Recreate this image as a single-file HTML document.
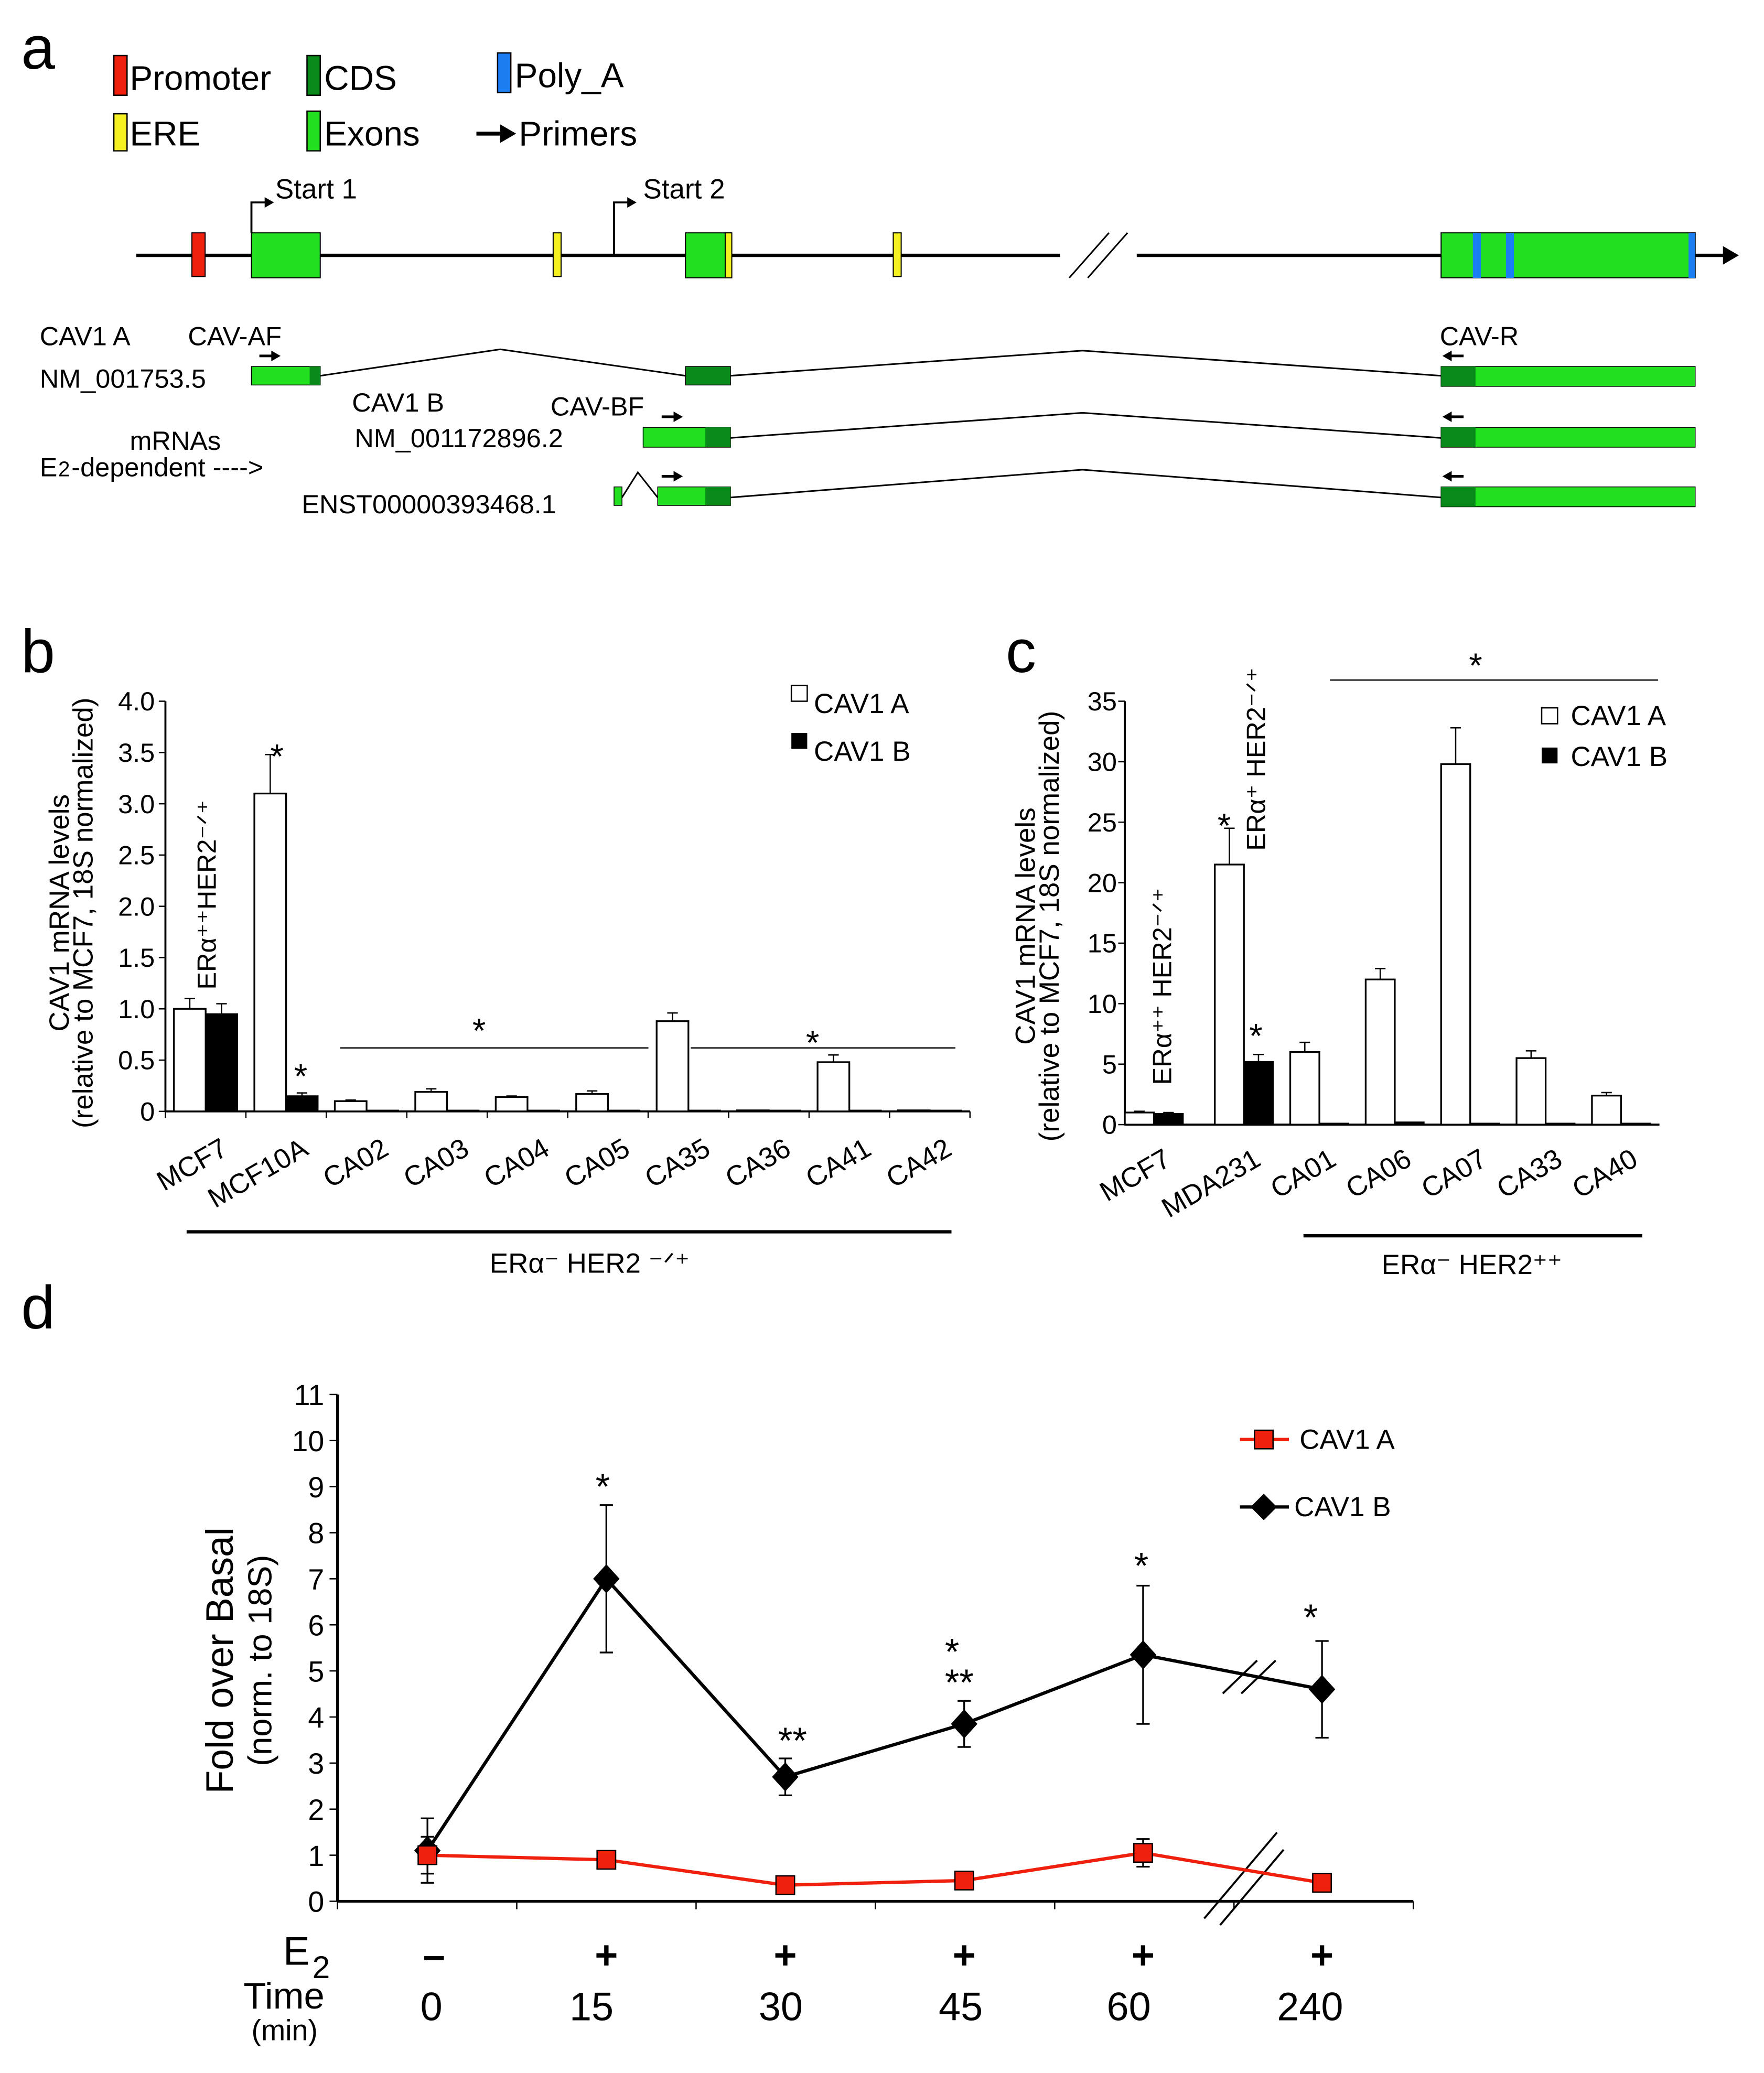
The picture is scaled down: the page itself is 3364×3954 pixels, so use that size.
<!DOCTYPE html>
<html><head><meta charset="utf-8"><style>
html,body{margin:0;padding:0;background:#fff}
svg{display:block}
text{font-family:"Liberation Sans",sans-serif;fill:#000}
</style></head><body>
<svg id="fig" width="3364" height="3954" viewBox="0 0 1333 1566.8" xmlns="http://www.w3.org/2000/svg">
<g>
<text x="16" y="52" font-size="46">a</text>
<g font-size="26">
<rect x="86" y="42" width="10" height="30" fill="#f0200f" stroke="#000" stroke-width="1"/><text x="98" y="68">Promoter</text>
<rect x="232" y="42" width="10" height="30" fill="#0a8a1a" stroke="#000" stroke-width="1"/><text x="245" y="68">CDS</text>
<rect x="376" y="40" width="10" height="30" fill="#1a7ef0" stroke="#000" stroke-width="1"/><text x="389" y="66">Poly_A</text>
<rect x="86" y="86" width="10" height="28" fill="#f5f020" stroke="#000" stroke-width="1"/><text x="98" y="110">ERE</text>
<rect x="232" y="84" width="10" height="30" fill="#22e020" stroke="#000" stroke-width="1"/><text x="245" y="110">Exons</text>
<line x1="360" y1="101" x2="380" y2="101" stroke="#000" stroke-width="3"/><polygon points="378,94 390,101 378,108" fill="#000"/><text x="392" y="110">Primers</text>
</g>
<g>
<line x1="103" y1="193" x2="1303" y2="193" stroke="#000" stroke-width="2.5"/>
<polygon points="1302,186 1314,193 1302,200" fill="#000"/>
<rect x="801" y="183" width="58" height="20" fill="#fff"/>
<line x1="808" y1="210" x2="838" y2="176" stroke="#000" stroke-width="1.2"/><line x1="822" y1="210" x2="852" y2="176" stroke="#000" stroke-width="1.2"/>
<rect x="145" y="176" width="10" height="33" fill="#f0200f" stroke="#000" stroke-width="0.8"/>
<rect x="190" y="176" width="52" height="34" fill="#22e020" stroke="#000" stroke-width="0.8"/>
<rect x="418" y="176" width="6" height="33" fill="#f5f020" stroke="#000" stroke-width="0.8"/>
<rect x="518" y="176" width="34" height="34" fill="#22e020" stroke="#000" stroke-width="0.8"/>
<rect x="548" y="176" width="5" height="34" fill="#f5f020" stroke="#000" stroke-width="0.8"/>
<rect x="675" y="176" width="6" height="33" fill="#f5f020" stroke="#000" stroke-width="0.8"/>
<rect x="1089" y="176" width="192" height="34" fill="#22e020" stroke="#000" stroke-width="0.8"/>
<rect x="1113" y="176" width="6" height="34" fill="#1a7ef0"/><rect x="1138" y="176" width="6" height="34" fill="#1a7ef0"/><rect x="1276" y="176" width="5" height="34" fill="#1a7ef0"/>
<polyline points="190,176 190,153 202,153" fill="none" stroke="#000" stroke-width="1.5"/><polygon points="200,149 207,153 200,157" fill="#000"/>
<text x="208" y="150" font-size="21">Start 1</text>
<polyline points="464,193 464,153 476,153" fill="none" stroke="#000" stroke-width="1.5"/><polygon points="474,149 481,153 474,157" fill="#000"/>
<text x="486" y="150" font-size="21">Start 2</text>
</g>
<g font-size="20">
<text x="30" y="261">CAV1 A</text><text x="142" y="261">CAV-AF</text>
<text x="30" y="293">NM_001753.5</text>
<text x="266" y="311">CAV1 B</text><text x="416" y="314">CAV-BF</text>
<text x="268" y="338">NM_001172896.2</text>
<text x="98" y="340">mRNAs</text>
<text x="30" y="360">E</text><text x="44" y="360" font-size="16">2</text><text x="54" y="360">-dependent  ----&gt;</text>
<text x="228" y="388">ENST00000393468.1</text>
<text x="1088" y="261">CAV-R</text>
<polyline points="242,284 378,264 518,284" fill="none" stroke="#000" stroke-width="1.2"/>
<polyline points="552,284 818,265 1089,284" fill="none" stroke="#000" stroke-width="1.2"/>
<polyline points="552,331 818,312 1089,331" fill="none" stroke="#000" stroke-width="1.2"/>
<polyline points="470,376 482,357 497,376" fill="none" stroke="#000" stroke-width="1.2"/>
<polyline points="552,376 818,355 1089,376" fill="none" stroke="#000" stroke-width="1.2"/>
<rect x="190" y="277" width="52" height="14" fill="#22e020" stroke="#000" stroke-width="0.6"/><rect x="234" y="277" width="8" height="14" fill="#0a8a1a"/>
<rect x="518" y="277" width="34" height="14" fill="#0a8a1a" stroke="#000" stroke-width="0.6"/>
<rect x="486" y="323" width="66" height="15" fill="#22e020" stroke="#000" stroke-width="0.6"/><rect x="533" y="323" width="19" height="15" fill="#0a8a1a"/>
<rect x="464" y="368" width="6" height="14" fill="#22e020" stroke="#000" stroke-width="0.6"/>
<rect x="497" y="368" width="55" height="14" fill="#22e020" stroke="#000" stroke-width="0.6"/><rect x="533" y="368" width="19" height="14" fill="#0a8a1a"/>
<rect x="1089" y="277" width="192" height="15" fill="#22e020" stroke="#000" stroke-width="0.6"/><rect x="1089" y="277" width="26" height="15" fill="#0a8a1a"/>
<rect x="1089" y="323" width="192" height="15" fill="#22e020" stroke="#000" stroke-width="0.6"/><rect x="1089" y="323" width="26" height="15" fill="#0a8a1a"/>
<rect x="1089" y="368" width="192" height="15" fill="#22e020" stroke="#000" stroke-width="0.6"/><rect x="1089" y="368" width="26" height="15" fill="#0a8a1a"/>
<g stroke="#000" stroke-width="2">
<line x1="196" y1="269" x2="206" y2="269"/><line x1="500" y1="315" x2="510" y2="315"/><line x1="500" y1="360" x2="510" y2="360"/>
<line x1="1096" y1="269" x2="1106" y2="269"/><line x1="1096" y1="315" x2="1106" y2="315"/><line x1="1096" y1="360" x2="1106" y2="360"/>
</g>
<polygon points="205,265 212,269 205,273"/><polygon points="509,311 516,315 509,319"/><polygon points="509,356 516,360 509,364"/>
<polygon points="1097,265 1090,269 1097,273"/><polygon points="1097,311 1090,315 1097,319"/><polygon points="1097,356 1090,360 1097,364"/>
</g>
</g>
<g id="pb"></g>
<g id="pc"></g>
<g id="pd"></g>
</svg>
<script>
const bCats=["MCF7","MCF10A","CA02","CA03","CA04","CA05","CA35","CA36","CA41","CA42"];
const bA=[1.0,3.1,0.1,0.19,0.14,0.17,0.88,0.01,0.48,0.01];
const bAerr=[0.1,0.38,0.01,0.03,0.01,0.03,0.08,0,0.07,0];
const bB=[0.95,0.15,0.01,0.01,0.01,0.01,0.01,0.01,0.01,0.01];
const bBerr=[0.1,0.03,0,0,0,0,0,0,0,0];
const bTicks=["0","0.5","1.0","1.5","2.0","2.5","3.0","3.5","4.0"];
const cCats=["MCF7","MDA231","CA01","CA06","CA07","CA33","CA40"];
const cA=[1,21.5,6,12,29.8,5.5,2.4];
const cAerr=[0.1,3,0.8,0.9,3,0.6,0.25];
const cB=[0.9,5.2,0.1,0.2,0.1,0.1,0.1];
const cBerr=[0.1,0.6,0,0,0,0,0];
const cTicks=["0","5","10","15","20","25","30","35"];
const dTimes=["0","15","30","45","60","240"];
const dE2=["-","+","+","+","+","+"];
const dB=[1.1,7.0,2.7,3.85,5.35,4.6];
const dBerr=[0.7,1.6,0.4,0.5,1.5,1.05];
const dA=[1.0,0.9,0.35,0.45,1.05,0.4];
const dAerr=[0.4,0.1,0.1,0.1,0.3,0.15];
const dTicks=["0","1","2","3","4","5","6","7","8","9","10","11"];

const NS="http://www.w3.org/2000/svg";
function mk(p,tag,at,txt){const e=document.createElementNS(NS,tag);for(const k in at)e.setAttribute(k,at[k]);if(txt!==undefined)e.textContent=txt;p.appendChild(e);return e;}

(function(){
const g=document.getElementById('pb');
const x0=125,x1=733,y0=840,yTop=530,max=4;
const y=v=>y0-(v/max)*(y0-yTop);
const step=(x1-x0)/bCats.length;
const cx=i=>x0+step*(i+0.5);
let t=mk(g,'text',{x:16,y:508,'font-size':46},'b');

let ax=mk(g,'line',{x1:x0,y1:yTop,x2:x0,y2:y0,stroke:'#000','stroke-width':1.5});

let bx=mk(g,'line',{x1:x0,y1:y0,x2:x1,y2:y0,stroke:'#000','stroke-width':1.5});

bTicks.forEach((s,i)=>{const v=i*0.5;mk(g,'line',{x1:x0-5,y1:y(v),x2:x0,y2:y(v),stroke:'#000'});
 const tt=mk(g,'text',{x:x0-8,y:y(v)+7,'font-size':20,'text-anchor':'end'},s);
 });
for(let i=0;i<=bCats.length;i++)mk(g,'line',{x1:x0+step*i,y1:y0,x2:x0+step*i,y2:y0+5,stroke:'#000'});
bCats.forEach((c,i)=>{
 const bw=24;
 const ra=mk(g,'rect',{x:cx(i)-bw,y:y(bA[i]),width:bw,height:y0-y(bA[i]),fill:'#fff',stroke:'#000','stroke-width':1.3});
 
 const rb=mk(g,'rect',{x:cx(i),y:y(bB[i]),width:bw,height:y0-y(bB[i]),fill:'#000',stroke:'#000','stroke-width':1});
 
 if(bAerr[i]>0){mk(g,'line',{x1:cx(i)-bw/2,y1:y(bA[i]),x2:cx(i)-bw/2,y2:y(bA[i]+bAerr[i]),stroke:'#000'});mk(g,'line',{x1:cx(i)-bw/2-4,y1:y(bA[i]+bAerr[i]),x2:cx(i)-bw/2+4,y2:y(bA[i]+bAerr[i]),stroke:'#000'});}
 if(bBerr[i]>0){mk(g,'line',{x1:cx(i)+bw/2,y1:y(bB[i]),x2:cx(i)+bw/2,y2:y(bB[i]+bBerr[i]),stroke:'#000'});mk(g,'line',{x1:cx(i)+bw/2-4,y1:y(bB[i]+bBerr[i]),x2:cx(i)+bw/2+4,y2:y(bB[i]+bBerr[i]),stroke:'#000'});}
 const lx=cx(i)+18,ly=y0+32;
 const l=mk(g,'text',{x:lx,y:ly,'font-size':21,'text-anchor':'end',transform:`rotate(-30 ${lx} ${ly})`},c);
 
});
mk(g,'text',{x:cx(1)-12,y:y(3.5)+12,'font-size':26},'*');
mk(g,'text',{x:cx(1)+6,y:y(0.2)-2,'font-size':26},'*');
mk(g,'line',{x1:257,y1:792,x2:490,y2:792,stroke:'#000'});mk(g,'line',{x1:522,y1:792,x2:722,y2:792,stroke:'#000'});
mk(g,'text',{x:357,y:788,'font-size':26},'*');mk(g,'text',{x:609,y:797,'font-size':26},'*');
mk(g,'text',{x:163,y:748,'font-size':20,transform:'rotate(-90 163 748)'},'ERα⁺⁺HER2⁻ᐟ⁺');
mk(g,'line',{x1:141,y1:931,x2:719,y2:931,stroke:'#000','stroke-width':2.5});
mk(g,'text',{x:370,y:962,'font-size':21},'ERα⁻  HER2 ⁻ᐟ⁺');
const yt=mk(g,'text',{x:52,y:690,'font-size':21,'text-anchor':'middle',transform:'rotate(-90 52 690)'},'CAV1 mRNA levels');

mk(g,'text',{x:70,y:690,'font-size':21,'text-anchor':'middle',transform:'rotate(-90 70 690)'},'(relative to MCF7, 18S normalized)');
const lg=mk(g,'g',{});
mk(lg,'rect',{x:598,y:518,width:12,height:12,fill:'#fff',stroke:'#000'});mk(lg,'text',{x:615,y:539,'font-size':21},'CAV1 A');
mk(lg,'rect',{x:598,y:554,width:12,height:12,fill:'#000'});mk(lg,'text',{x:615,y:575,'font-size':21},'CAV1 B');
})();

(function(){
const g=document.getElementById('pc');
const x0=850,x1=1254,y0=850,yTop=530,max=35;
const y=v=>y0-(v/max)*(y0-yTop);
const cx=i=>i<2?x0+22+i*68:x0+147+(i-2)*57;
let t=mk(g,'text',{x:760,y:508,'font-size':46},'c');

let ax=mk(g,'line',{x1:x0,y1:yTop,x2:x0,y2:y0,stroke:'#000','stroke-width':1.5});

let bx=mk(g,'line',{x1:x0,y1:y0,x2:x1,y2:y0,stroke:'#000','stroke-width':1.5});

cTicks.forEach((s,i)=>{const v=i*5;mk(g,'line',{x1:x0-5,y1:y(v),x2:x0,y2:y(v),stroke:'#000'});
 const tt=mk(g,'text',{x:x0-6,y:y(v)+7,'font-size':20,'text-anchor':'end'},s);
 });
cCats.forEach((c,i)=>{
 const bw=22;
 const ra=mk(g,'rect',{x:cx(i)-bw,y:y(cA[i]),width:bw,height:y0-y(cA[i]),fill:'#fff',stroke:'#000','stroke-width':1.3});
 
 const rb=mk(g,'rect',{x:cx(i),y:y(cB[i]),width:bw,height:y0-y(cB[i]),fill:'#000',stroke:'#000','stroke-width':1});
 
 if(cAerr[i]>0){mk(g,'line',{x1:cx(i)-bw/2,y1:y(cA[i]),x2:cx(i)-bw/2,y2:y(cA[i]+cAerr[i]),stroke:'#000'});mk(g,'line',{x1:cx(i)-bw/2-4,y1:y(cA[i]+cAerr[i]),x2:cx(i)-bw/2+4,y2:y(cA[i]+cAerr[i]),stroke:'#000'});}
 if(cBerr[i]>0){mk(g,'line',{x1:cx(i)+bw/2,y1:y(cB[i]),x2:cx(i)+bw/2,y2:y(cB[i]+cBerr[i]),stroke:'#000'});mk(g,'line',{x1:cx(i)+bw/2-4,y1:y(cB[i]+cBerr[i]),x2:cx(i)+bw/2+4,y2:y(cB[i]+cBerr[i]),stroke:'#000'});}
 const lx=cx(i)+14,ly=y0+30;
 const l=mk(g,'text',{x:lx,y:ly,'font-size':21,'text-anchor':'end',transform:`rotate(-30 ${lx} ${ly})`},c);
 
});
mk(g,'text',{x:920,y:633,'font-size':26},'*');mk(g,'text',{x:944,y:792,'font-size':26},'*');
mk(g,'line',{x1:1005,y1:514,x2:1253,y2:514,stroke:'#000'});mk(g,'text',{x:1110,y:512,'font-size':26},'*');
mk(g,'text',{x:885,y:820,'font-size':20,transform:'rotate(-90 885 820)'},'ERα⁺⁺ HER2⁻ᐟ⁺');
mk(g,'text',{x:956,y:643,'font-size':20,transform:'rotate(-90 956 643)'},'ERα⁺ HER2⁻ᐟ⁺');
mk(g,'line',{x1:985,y1:934,x2:1241,y2:934,stroke:'#000','stroke-width':2.5});
mk(g,'text',{x:1044,y:963,'font-size':21},'ERα⁻  HER2⁺⁺');
const yt=mk(g,'text',{x:782,y:700,'font-size':21,'text-anchor':'middle',transform:'rotate(-90 782 700)'},'CAV1 mRNA levels');

mk(g,'text',{x:800,y:700,'font-size':21,'text-anchor':'middle',transform:'rotate(-90 800 700)'},'(relative to MCF7, 18S normalized)');
const lg=mk(g,'g',{});
mk(lg,'rect',{x:1165,y:535,width:12,height:12,fill:'#fff',stroke:'#000'});mk(lg,'text',{x:1187,y:548,'font-size':21},'CAV1 A');
mk(lg,'rect',{x:1165,y:565,width:12,height:12,fill:'#000'});mk(lg,'text',{x:1187,y:579,'font-size':21},'CAV1 B');
})();

(function(){
const g=document.getElementById('pd');
const x0=255,x1=1068,y0=1437,yTop=1054,max=11;
const y=v=>y0-(v/max)*(y0-yTop);
const xs=i=>323+i*135.2;
let t=mk(g,'text',{x:16,y:1004,'font-size':46},'d');

let ax=mk(g,'line',{x1:x0,y1:yTop,x2:x0,y2:y0,stroke:'#000','stroke-width':2});

let bx=mk(g,'line',{x1:x0,y1:y0,x2:x1,y2:y0,stroke:'#000','stroke-width':2});

dTicks.forEach((s,i)=>{mk(g,'line',{x1:x0-6,y1:y(i),x2:x0,y2:y(i),stroke:'#000'});
 const tt=mk(g,'text',{x:x0-10,y:y(i)+8,'font-size':22,'text-anchor':'end'},s);
 });
for(let i=0;i<=6;i++)mk(g,'line',{x1:x0+i*135.5,y1:y0,x2:x0+i*135.5,y2:y0+6,stroke:'#000'});
mk(g,'rect',{x:915,y:1245,width:50,height:40,fill:'#fff'});
mk(g,'line',{x1:924,y1:1280,x2:950,y2:1255,stroke:'#000','stroke-width':1.5});mk(g,'line',{x1:938,y1:1280,x2:964,y2:1255,stroke:'#000','stroke-width':1.5});
mk(g,'line',{x1:910,y1:1450,x2:965,y2:1385,stroke:'#000','stroke-width':1.5});mk(g,'line',{x1:922,y1:1455,x2:970,y2:1398,stroke:'#000','stroke-width':1.5});
function series(vals,errs,color,shape,nm){
 const pts=vals.map((v,i)=>xs(i)+','+y(v)).join(' ');
 const l=mk(g,'polyline',{points:pts,fill:'none',stroke:color,'stroke-width':2.5});
 
 vals.forEach((v,i)=>{
  const e=errs[i];
  mk(g,'line',{x1:xs(i),y1:y(v-e),x2:xs(i),y2:y(v+e),stroke:'#000','stroke-width':1.3});
  mk(g,'line',{x1:xs(i)-5,y1:y(v+e),x2:xs(i)+5,y2:y(v+e),stroke:'#000','stroke-width':1.3});
  mk(g,'line',{x1:xs(i)-5,y1:y(v-e),x2:xs(i)+5,y2:y(v-e),stroke:'#000','stroke-width':1.3});
  let m;
  if(shape==='sq')m=mk(g,'rect',{x:xs(i)-7,y:y(v)-7,width:14,height:14,fill:'#f0200f',stroke:'#000','stroke-width':1});
  else m=mk(g,'polygon',{points:`${xs(i)},${y(v)-11} ${xs(i)+10},${y(v)} ${xs(i)},${y(v)+11} ${xs(i)-10},${y(v)}`,fill:'#000'});
  
 });
}
series(dB,dBerr,'#000','dia','cav1b');
series(dA,dAerr,'#f0200f','sq','cav1a');
const st=[[450,1133,'*'],[588,1325,'**'],[714,1258,'*'],[714,1281,'**'],[857,1193,'*'],[985,1232,'*']];
st.forEach(s=>mk(g,'text',{x:s[0],y:s[1],'font-size':28},s[2]));
dE2.forEach((s,i)=>{const tt=mk(g,'text',{x:xs(i)+(i===0?5:0),y:1488,'font-size':30,'font-weight':'bold','text-anchor':'middle'},s==='-'?'–':'+');
 });
dTimes.forEach((s,i)=>{const tt=mk(g,'text',{x:[326,447,590,726,853,990][i],y:1527,'font-size':30,'text-anchor':'middle'},s);
 });
mk(g,'text',{x:214,y:1485,'font-size':30},'E');mk(g,'text',{x:236,y:1495,'font-size':24},'2');
mk(g,'text',{x:184,y:1518,'font-size':28},'Time');mk(g,'text',{x:190,y:1542,'font-size':22},'(min)');
const yt=mk(g,'text',{x:176,y:1255,'font-size':29,'text-anchor':'middle',transform:'rotate(-90 176 1255)'},'Fold over Basal');

mk(g,'text',{x:205,y:1255,'font-size':25,'text-anchor':'middle',transform:'rotate(-90 205 1255)'},'(norm. to 18S)');
const lg=mk(g,'g',{});
mk(lg,'line',{x1:937,y1:1088,x2:974,y2:1088,stroke:'#f0200f','stroke-width':2.5});
mk(lg,'rect',{x:948,y:1081,width:14,height:14,fill:'#f0200f',stroke:'#000'});
mk(lg,'text',{x:982,y:1095,'font-size':21},'CAV1 A');
mk(lg,'line',{x1:937,y1:1139,x2:974,y2:1139,stroke:'#000','stroke-width':2.5});
mk(lg,'polygon',{points:'955,1129 965,1139 955,1149 945,1139',fill:'#000'});
mk(lg,'text',{x:978,y:1146,'font-size':21},'CAV1 B');
})();
</script>
</body></html>
